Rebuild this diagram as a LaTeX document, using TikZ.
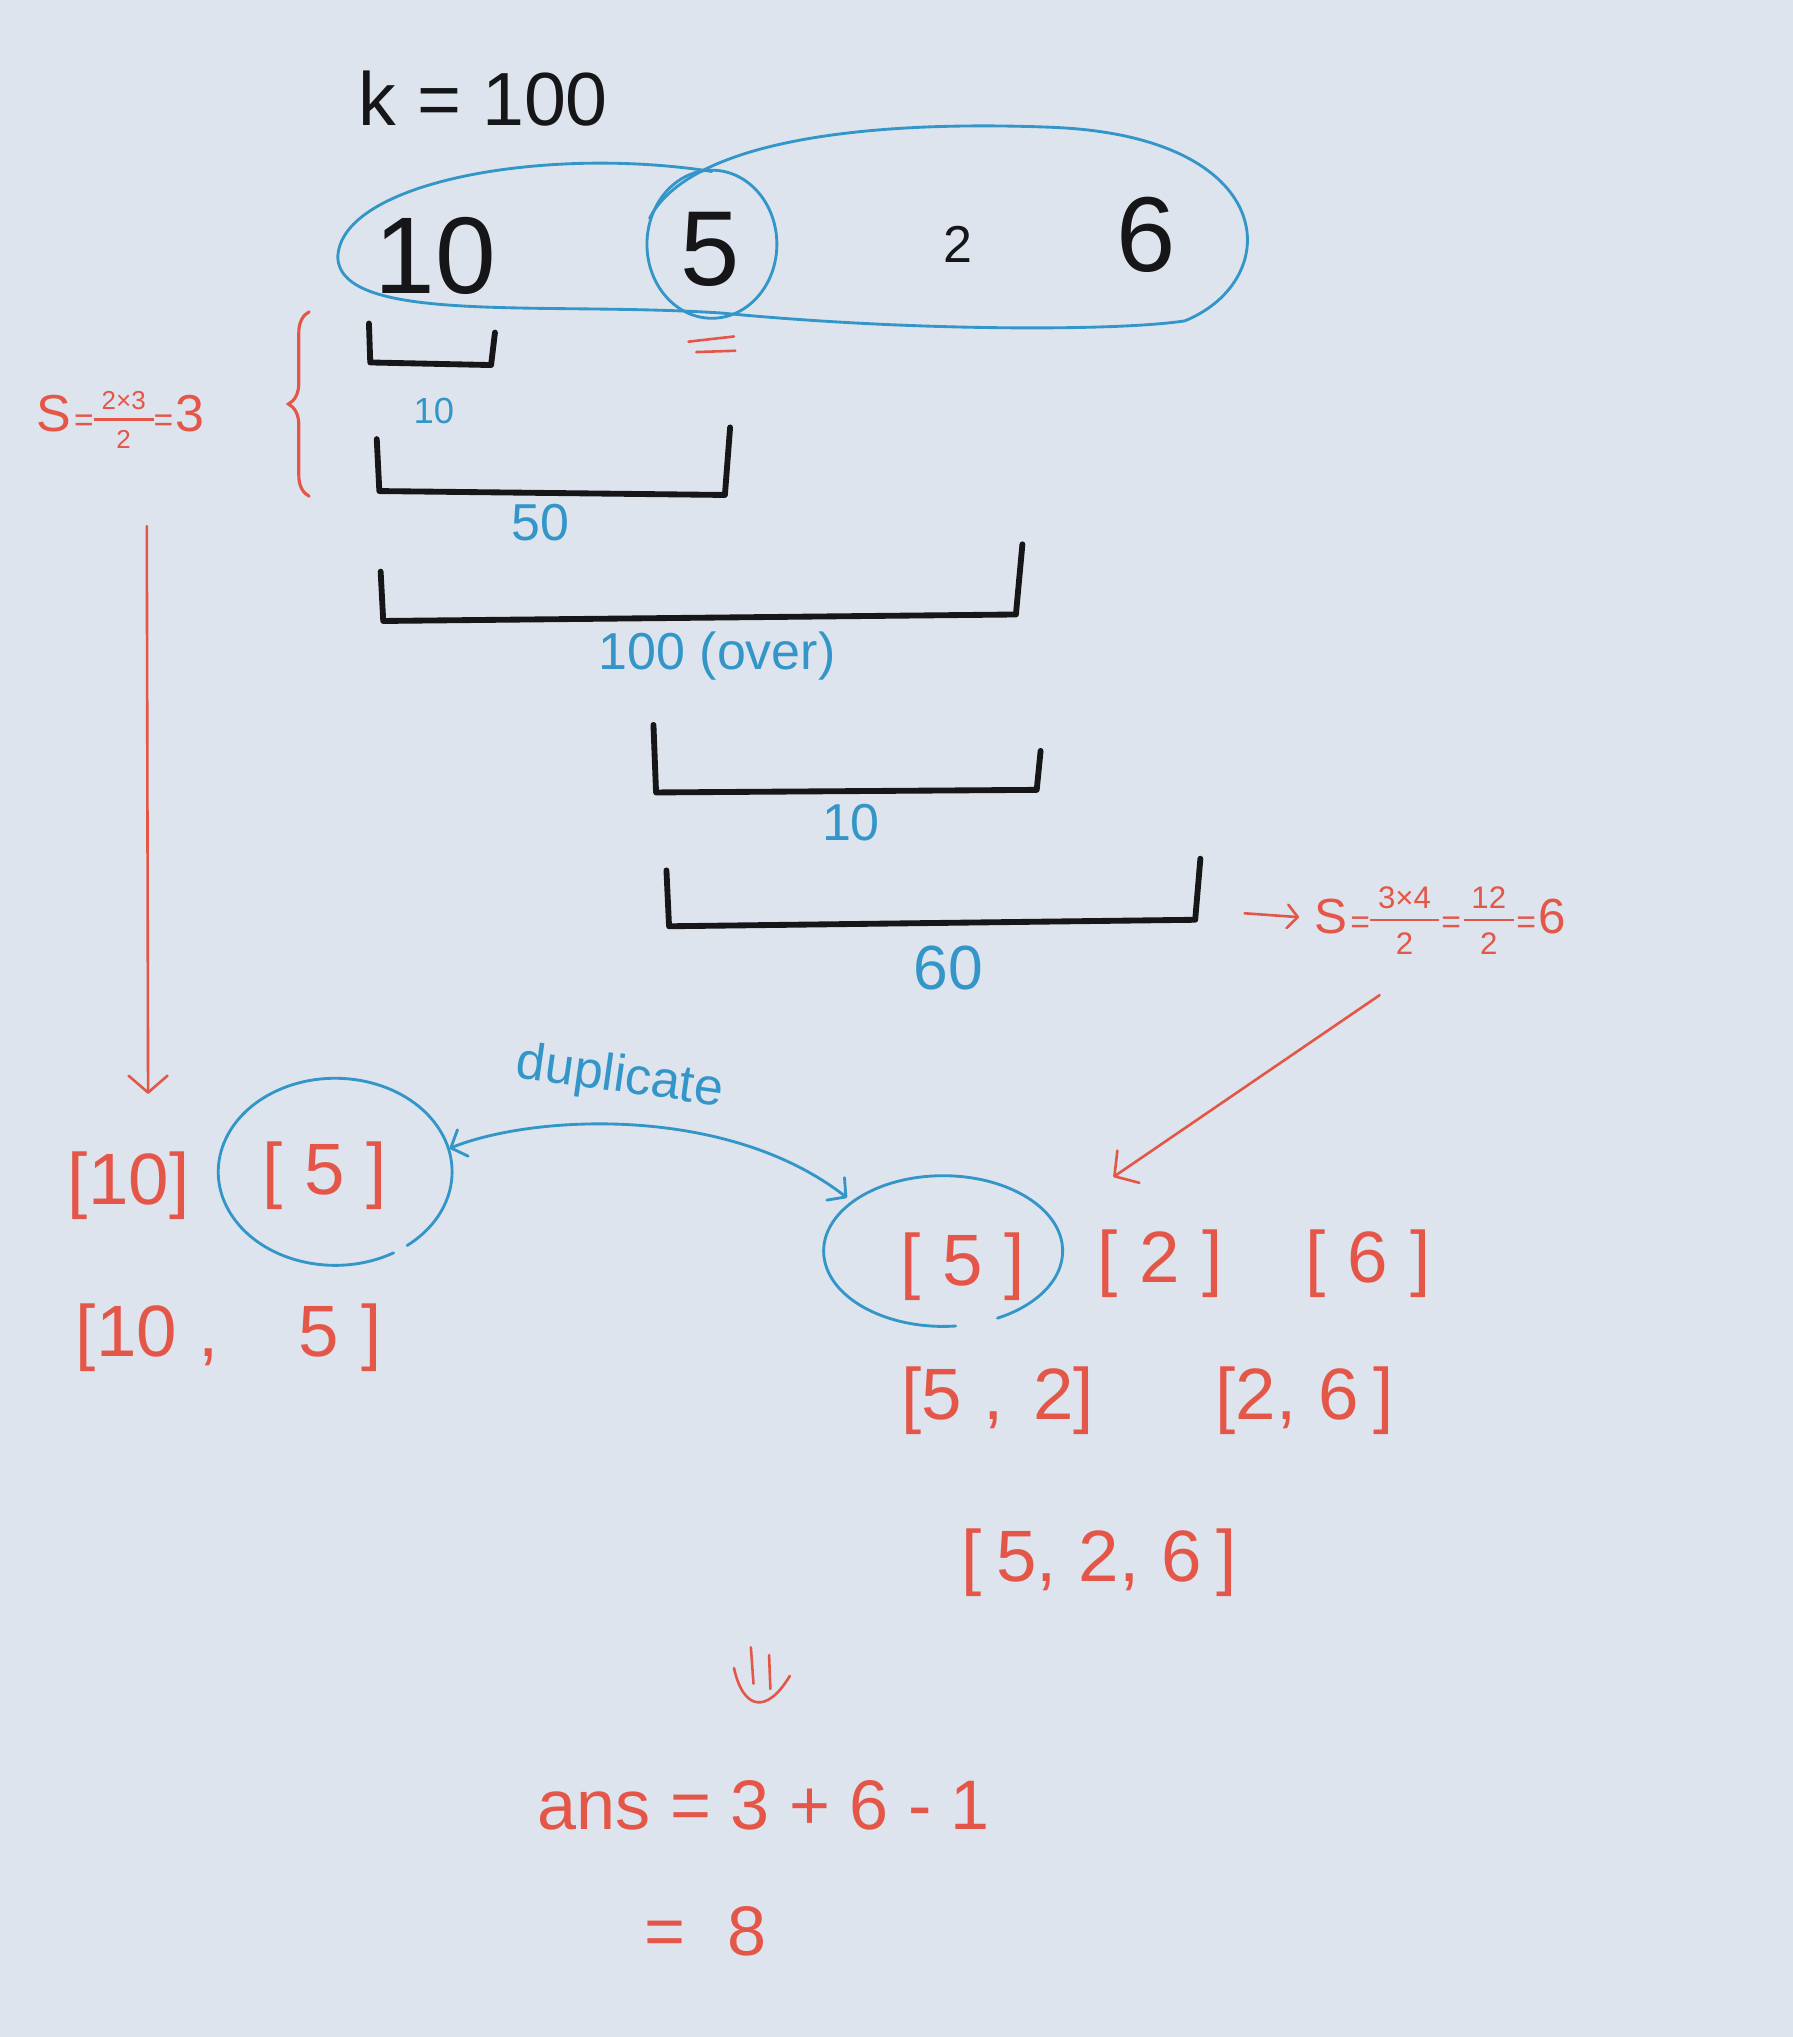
\documentclass[tikz,border=0pt]{standalone}
\usepackage{fontspec}
\setmainfont{Liberation Sans}
\usetikzlibrary{arrows.meta,decorations.pathreplacing,calc}
\definecolor{paper}{RGB}{221,228,237}
\definecolor{ink}{RGB}{22,22,24}
\definecolor{pen}{RGB}{52,150,200}
\definecolor{marker}{RGB}{228,86,72}
\newcommand\hwfrac[3]{$\vcenter{\hbox{\fontsize{#1}{#1}\selectfont\setlength{\arrayrulewidth}{2pt}\renewcommand\arraystretch{1.05}\begin{tabular}{@{\hspace{6pt}}c@{\hspace{6pt}}}#2\\\hline\rule{0pt}{1.05em}#3\end{tabular}}}$}
\newcommand\br[1]{[\hspace{0.3em}#1\hspace{0.3em}]}
\begin{document}
\begin{tikzpicture}[x=1pt,y=-1pt,
  blk/.style={text=ink, inner sep=0pt},
  blu/.style={text=pen, inner sep=0pt},
  rd/.style={text=marker, inner sep=0pt},
  brk/.style={draw=ink, line width=4.5pt, line join=round, line cap=round},
  bline/.style={draw=pen, line width=2.2pt, line cap=round},
  rline/.style={draw=marker, line width=2pt, line cap=round, line join=round},
  redtip/.style={-{Straight Barb[length=13pt,width=30pt,round]}},
  bluetips/.style={{Straight Barb[length=10pt,width=22pt,round]}-{Straight Barb[length=10pt,width=22pt,round]}},
  ]
\fill[paper] (0,0) rectangle (1380,1568);
\useasboundingbox (0,0) rectangle (1380,1568);

% top
\node[blk, font=\fontsize{58}{60}\selectfont] (k) at (372,76) {k = 100};
\node[blk, font=\fontsize{84}{84}\selectfont] (n10) at (335,197) {10};
\node[blk, font=\fontsize{82}{82}\selectfont] (n5) at (547,192) {5};
\node[blk, font=\fontsize{40}{40}\selectfont] (n2) at (737,188) {2};
\node[blk, font=\fontsize{82}{82}\selectfont] (n6) at (882,181) {6};

% blue groupings
\draw[bline] (548,132) .. controls (420,112) and (262,140) .. (260,198)
             .. controls (262,250) and (420,232) .. (556,241);
\draw[bline] (548,188) ellipse [x radius=50, y radius=57];
\draw[bline] (556,241) .. controls (700,255) and (860,255) .. (912,247)
             .. controls (990,215) and (985,105) .. (810,98)
             .. controls (660,92) and (530,110) .. (500,168);

% red equals under 5
\draw[rline] (530,263) -- (565,259);
\draw[rline] (536,271) -- (566,270);

% brackets
\draw[brk] (284,249) -- (285,279) -- (378,281) -- (381,256);
\node[blu, font=\fontsize{28}{28}\selectfont] (w10a) at (334,316) {10};
\draw[brk] (290,338) -- (292,378) -- (558,381) -- (562,329);
\node[blu, font=\fontsize{40}{40}\selectfont] (w50) at (416,402) {50};
\draw[brk] (293,440) -- (295,478) -- (782,473) -- (787,419);
\node[blu, font=\fontsize{40}{40}\selectfont] (w100) at (552,505) {100 (over)};
\draw[brk] (503,558) -- (505,610) -- (798,608) -- (801,578);
\node[blu, font=\fontsize{40}{40}\selectfont] (w10b) at (655,633) {10};
\draw[brk] (513,670) -- (515,713) -- (920,708) -- (924,661);
\node[blu, font=\fontsize{48}{48}\selectfont] (w60) at (730,745) {60};

% left brace and formula
\draw[draw=marker, line width=2.4pt, line cap=round, decorate, decoration={brace, amplitude=16pt}] (238,382) -- (238,240);
\node[rd, font=\fontsize{40}{40}\selectfont] (sf) at (93,326)
  {S\hspace{2pt}{\fontsize{26}{26}\selectfont=}\hwfrac{20}{2×3}{2}{\fontsize{26}{26}\selectfont=}\hspace{2pt}3};

% right formula
\node[rd, font=\fontsize{38}{38}\selectfont, anchor=west] (rf) at (1012,712)
  {S\hspace{2pt}{\fontsize{26}{26}\selectfont=}\hwfrac{24}{3×4}{2}\hspace{2pt}{\fontsize{26}{26}\selectfont=}\hspace{2pt}\hwfrac{24}{12}{2}\hspace{2pt}{\fontsize{26}{26}\selectfont=}\hspace{2pt}6};
\coordinate (ra) at (958,703);
\draw[rline, -{Straight Barb[length=8pt,width=18pt,round]}] (ra) -- ($(rf.west)+(-12,-6)$);

% lists
\node[rd, font=\fontsize{56}{56}\selectfont] (l10) at (99,913) {[10]};
\node[rd, font=\fontsize{56}{56}\selectfont] (l5) at (250,905) {\br{5}};
\node[rd, font=\fontsize{56}{56}\selectfont] (l105) at (176,1030) {[10\hspace{0.3em},\hspace{1.1em}5\hspace{0.3em}]};
\draw[bline] ($(258,902)+(60:90 and 72)$) arc[start angle=60, end angle=412, x radius=90, y radius=72];

\node[rd, font=\fontsize{56}{56}\selectfont] (r5) at (741,975) {\br{5}};
\node[rd, font=\fontsize{56}{56}\selectfont] (r2) at (893,973) {\br{2}};
\node[rd, font=\fontsize{56}{56}\selectfont] (r6) at (1053,973) {\br{6}};
\draw[bline] ($(726,963)+(84:92 and 58)$) arc[start angle=84, end angle=423, x radius=92, y radius=58];
\node[rd, font=\fontsize{56}{56}\selectfont] (r52) at (768,1078) {[5\hspace{0.3em},\hspace{0.4em}2]};
\node[rd, font=\fontsize{56}{56}\selectfont] (r26) at (1004,1078) {[2,\hspace{0.3em}6\hspace{0.2em}]};
\node[rd, font=\fontsize{56}{56}\selectfont] (r526) at (846,1203) {[\hspace{0.2em}5,\hspace{0.3em}2,\hspace{0.3em}6\hspace{0.2em}]};

% arrows
\coordinate (va) at (113,405);
\coordinate (vb) at (114,842);
\draw[rline, redtip] (va) -- (vb);
\coordinate (da) at (1062,766);
\coordinate (db) at (857,906);
\draw[rline, redtip] (da) -- (db);

\coordinate (dl) at (346,884);
\coordinate (dr) at (652,922);
\draw[bline, bluetips] (dl) .. controls (410,858) and (560,850) .. (dr);
\node[blu, font=\fontsize{40}{40}\selectfont, rotate=-8] (dup) at (477,830) {duplicate};

% double down arrow
\draw[rline] (578,1268) -- (580,1296);
\draw[rline] (592,1274) -- (593,1300);
\draw[rline] (565,1284) .. controls (572,1316) and (590,1320) .. (608,1290);

% answer
\node[rd, font=\fontsize{54}{54}\selectfont] (ans) at (588,1390) {ans = 3 + 6 - 1};
\node[rd, font=\fontsize{54}{54}\selectfont] (eq8) at (543,1487) {=\hspace{0.6em}8};
\end{tikzpicture}
\end{document}
